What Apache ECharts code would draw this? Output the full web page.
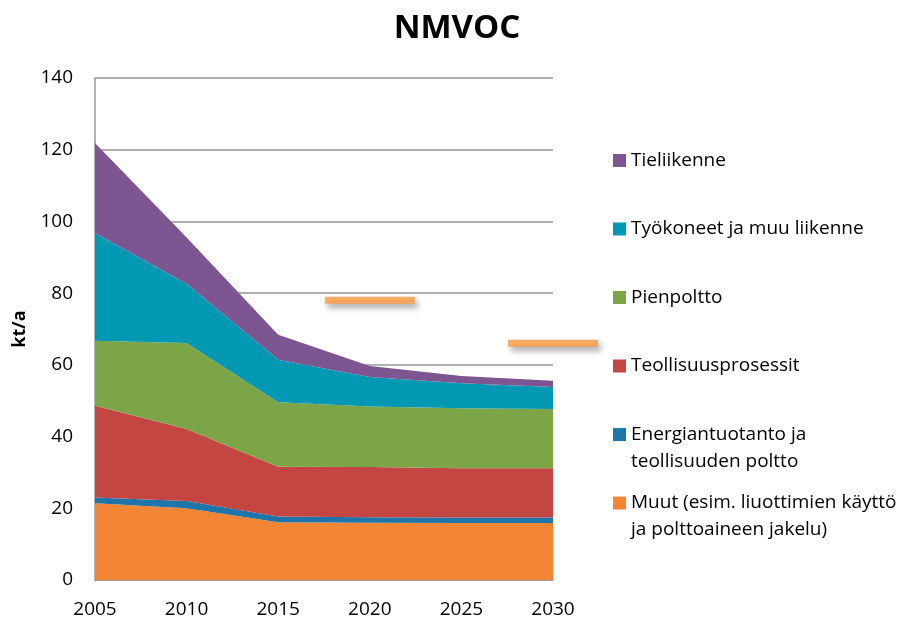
<!DOCTYPE html>
<html>
<head>
<meta charset="utf-8">
<script src="https://cdn.jsdelivr.net/npm/echarts@6/dist/echarts.min.js"></script>
<style>
  html, body { margin: 0; padding: 0; background: #fff; }
  #main { width: 916px; height: 619px; }
</style>
</head>
<body>
<div id="main"></div>
<script>
// vuodet ja päästöt (kt/a), alimmasta kerroksesta ylimpään
var years = ['2005', '2010', '2015', '2020', '2025', '2030'];
var muut = [21.4, 20.0, 16.1, 16.0, 15.9, 15.9];
var energia = [1.6, 2.0, 1.6, 1.5, 1.5, 1.5];
var teollisuus = [25.6, 20.1, 13.9, 14.0, 13.8, 13.8];
var pienpoltto = [18.1, 24.0, 18.0, 16.9, 16.7, 16.5];
var tyokoneet = [30.1, 16.5, 11.8, 8.2, 7.0, 6.1];
var tieliikenne = [25.1, 12.9, 7.0, 3.1, 2.0, 1.8];

// päästökatot
var targetYears = ['2020', '2030'];
var targetValues = [78, 66];

var names = [
  'Muut (esim. liuottimien käyttö\nja polttoaineen jakelu)',
  'Energiantuotanto ja\nteollisuuden poltto',
  'Teollisuusprosessit',
  'Pienpoltto',
  'Työkoneet ja muu liikenne',
  'Tieliikenne'
];
var values = [muut, energia, teollisuus, pienpoltto, tyokoneet, tieliikenne];
var colors = ['#F28634', '#1F75AA', '#C34643', '#7BA546', '#0098B2', '#7D5591'];

var font = 'Open Sans';

var series = names.map(function (n, i) {
  return {
    name: n,
    type: 'line',
    stack: 'total',
    symbol: 'none',
    lineStyle: { width: 0 },
    areaStyle: { color: colors[i], opacity: 1 },
    itemStyle: { color: colors[i] },
    data: values[i]
  };
});

series.push({
  type: 'scatter',
  symbol: 'rect',
  symbolSize: [90, 7],
  clip: false,
  z: 5,
  itemStyle: {
    color: '#FF9A40',
    shadowColor: 'rgba(0,0,0,0.45)',
    shadowBlur: 6,
    shadowOffsetX: 3,
    shadowOffsetY: 4
  },
  data: targetYears.map(function (y, k) { return [y, targetValues[k]]; })
});

// legenda: yksi komponentti per rivi, ylhäältä alas
var legendCenters = [160.5, 229, 297.5, 366, 434.5, 503];
var legends = [];
for (var j = 0; j < 6; j++) {
  var idx = 5 - j;
  var twoLine = names[idx].indexOf('\n') >= 0;
  legends.push({
    data: [names[idx]],
    left: 613,
    top: twoLine ? legendCenters[j] - 40 : legendCenters[j] - 13.35,
    padding: 0,
    itemWidth: 13,
    itemHeight: 13,
    icon: 'rect',
    selectedMode: false,
    // kaksirivisissä tyhjä rivi alkuun, jotta ikoni osuu ensimmäiselle riville
    formatter: twoLine ? function (n) { return ' \n' + n; } : '{name}',
    textStyle: {
      fontFamily: font,
      fontSize: 19,
      color: '#000',
      lineHeight: 26.7
    }
  });
}

var myChart = echarts.init(document.getElementById('main'));
myChart.setOption({
  animation: false,
  title: {
    text: 'NMVOC',
    left: 452,
    textAlign: 'center',
    top: 7,
    textStyle: { fontFamily: font, fontSize: 33, fontWeight: 'bold', color: '#000' }
  },
  legend: legends,
  grid: { left: 95, right: 363, top: 78, bottom: 39 },
  xAxis: {
    type: 'category',
    boundaryGap: false,
    data: years,
    axisLine: { show: true, lineStyle: { color: '#999', width: 1.5 } },
    axisTick: { show: false },
    splitLine: { show: false },
    axisLabel: { margin: 20, color: '#000', fontFamily: font, fontSize: 19 }
  },
  yAxis: {
    type: 'value',
    min: 0,
    max: 140,
    interval: 20,
    name: 'kt/a',
    nameLocation: 'middle',
    nameGap: 66,
    nameTextStyle: { fontFamily: font, fontSize: 18, fontWeight: 'bold', color: '#000' },
    axisLine: { show: true, lineStyle: { color: '#999', width: 1.5 } },
    axisTick: { show: false },
    splitLine: { lineStyle: { color: '#969696', width: 1.5 } },
    axisLabel: { margin: 22, color: '#000', fontFamily: font, fontSize: 19 }
  },
  series: series
});
</script>
</body>
</html>
